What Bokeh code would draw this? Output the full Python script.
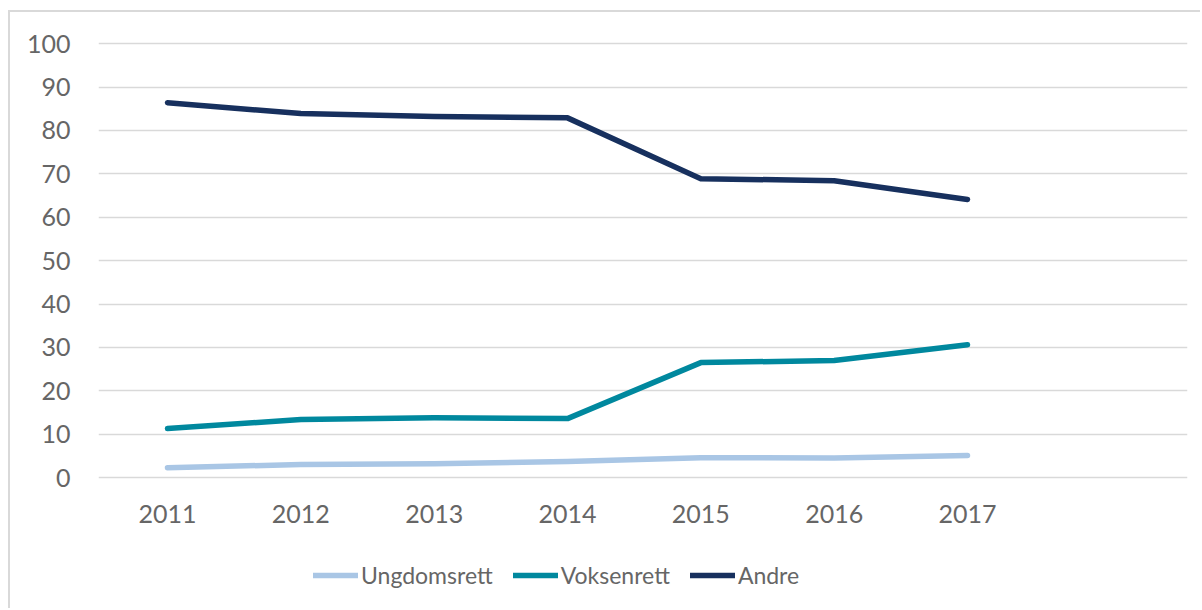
from bokeh.plotting import figure
from bokeh.models import Range1d, FixedTicker, Legend, LegendItem
from bokeh.embed import file_html
from bokeh.resources import INLINE

years = [2011, 2012, 2013, 2014, 2015, 2016, 2017]
ungdomsrett = [2.3, 3.0, 3.2, 3.7, 4.6, 4.5, 5.1]
voksenrett = [11.3, 13.4, 13.8, 13.6, 26.5, 27.0, 30.6]
andre = [86.4, 83.9, 83.2, 82.9, 68.9, 68.4, 64.1]
y_ticks = list(range(0, 101, 10))
series_names = ["Ungdomsrett", "Voksenrett", "Andre"]
colors = ["#a9c6e5", "#00889e", "#17305e"]

FONT = "Lato"
TXT = "#666666"

p = figure(frame_width=1089, frame_height=565, output_backend="svg", toolbar_location=None,
           x_range=Range1d(2010.4825, 2018.65), y_range=Range1d(-29.7, 100.5),
           min_border_left=88, min_border_right=13, min_border_top=29, min_border_bottom=2)
p.margin = (10, 0, 0, 8)
p.styles = {"border-top": "2px solid #d9d9d9", "border-left": "2px solid #d9d9d9"}
p.outline_line_color = None
p.background_fill_color = "white"
p.border_fill_color = "white"

p.xgrid.grid_line_color = None
p.ygrid.grid_line_color = "#d9d9d9"
p.ygrid.grid_line_width = 1.5

p.xaxis.ticker = FixedTicker(ticks=years)
p.yaxis.ticker = FixedTicker(ticks=y_ticks)
p.xaxis.fixed_location = 0
for ax in (p.xaxis[0], p.yaxis[0]):
    ax.axis_line_color = None
    ax.major_tick_line_color = None
    ax.minor_tick_line_color = None
    ax.major_label_text_font = FONT
    ax.major_label_text_font_size = "25px"
    ax.major_label_text_color = TXT
p.xaxis.major_label_standoff = 21
p.yaxis.major_label_standoff = 22

renderers = []
for vals, c in zip([ungdomsrett, voksenrett, andre], colors):
    r = p.line(years, vals, line_color=c, line_width=5.5, line_cap="round", line_join="round")
    renderers.append(r)

legend = Legend(items=[LegendItem(label=n, renderers=[r]) for n, r in zip(series_names, renderers)],
                orientation="horizontal", location=(215, 16),
                label_text_font=FONT, label_text_font_size="23px", label_text_color=TXT,
                glyph_width=45, glyph_height=30, label_height=30, label_standoff=3,
                spacing=20, padding=0, margin=0, border_line_color=None,
                background_fill_alpha=0)
p.add_layout(legend, "center")

open("out.html", "w").write(file_html(p, INLINE))
